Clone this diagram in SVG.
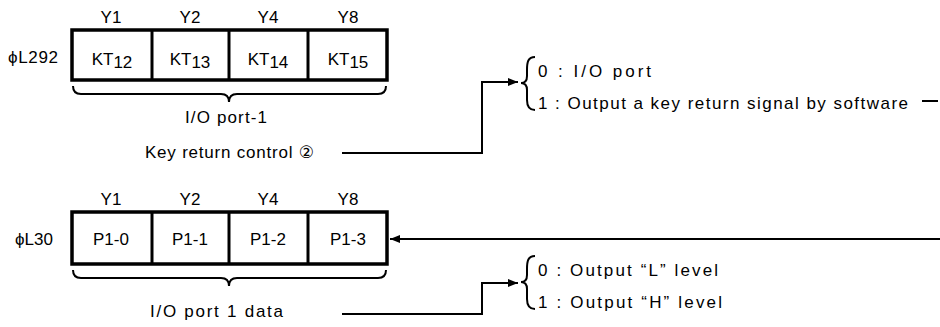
<svg xmlns="http://www.w3.org/2000/svg" width="940" height="327" viewBox="0 0 940 327">
<defs>
<style>
text{font-family:"Liberation Sans","DejaVu Sans",sans-serif;font-size:17px;fill:#000}
.c{text-anchor:middle}
.box{fill:#fff;stroke:#000;stroke-width:3.5}
.div{stroke:#000;stroke-width:3}
.ln{fill:none;stroke:#000;stroke-width:2}
</style>
<marker id="ah" markerWidth="10" markerHeight="8" refX="10" refY="4" orient="auto" markerUnits="userSpaceOnUse">
<path d="M0,0 L10,4 L0,8 Z" fill="#000"/>
</marker>
</defs>

<g id="reg292">
<rect class="box" x="72" y="30" width="315" height="50"/>
<line class="div" x1="152" y1="30" x2="152" y2="80"/>
<line class="div" x1="229" y1="30" x2="229" y2="80"/>
<line class="div" x1="308" y1="30" x2="308" y2="80"/>
<text x="8" y="63" textLength="50" lengthAdjust="spacing">ϕL292</text>
<text class="c" x="111" y="23">Y1</text>
<text class="c" x="190" y="23">Y2</text>
<text class="c" x="268" y="23">Y4</text>
<text class="c" x="348" y="23">Y8</text>
<text class="c" x="112" y="65">KT<tspan dy="3">12</tspan></text>
<text class="c" x="190" y="65">KT<tspan dy="3">13</tspan></text>
<text class="c" x="268" y="65">KT<tspan dy="3">14</tspan></text>
<text class="c" x="348" y="65">KT<tspan dy="3">15</tspan></text>
<path class="ln" d="M73,86 Q73,94 81,94 L221,94 Q229,94 229,102 Q229,94 237,94 L378,94 Q386,94 386,86"/>
<text x="185" y="123" textLength="82" lengthAdjust="spacing">I/O port-1</text>
</g>

<g id="krc">
<text x="145" y="158" textLength="169" lengthAdjust="spacing">Key return control ②</text>
</g>

<g id="opt1">
<path class="ln" d="M535,57 C528,57 527,62 527,70 L527,76 C527,81 525,83 521,83 C525,83 527,85 527,90 L527,100 C527,106 529,110 535,110"/>
<text x="538" y="77" textLength="113" lengthAdjust="spacing">0 : I/O port</text>
<text x="538" y="109" textLength="370" lengthAdjust="spacing">1 : Output a key return signal by software</text>
</g>

<g id="reg30">
<rect class="box" x="72" y="212" width="315" height="52"/>
<line class="div" x1="152" y1="212" x2="152" y2="264"/>
<line class="div" x1="229" y1="212" x2="229" y2="264"/>
<line class="div" x1="308" y1="212" x2="308" y2="264"/>
<text x="15" y="245" textLength="38" lengthAdjust="spacing">ϕL30</text>
<text class="c" x="111" y="205">Y1</text>
<text class="c" x="190" y="205">Y2</text>
<text class="c" x="268" y="205">Y4</text>
<text class="c" x="348" y="205">Y8</text>
<text class="c" x="111" y="245">P1-0</text>
<text class="c" x="190" y="245">P1-1</text>
<text class="c" x="268" y="245">P1-2</text>
<text class="c" x="348" y="245">P1-3</text>
<path class="ln" d="M73,270 Q73,278 81,278 L221,278 Q229,278 229,286 Q229,278 237,278 L378,278 Q386,278 386,270"/>
<text x="150" y="317" textLength="133" lengthAdjust="spacing">I/O port 1 data</text>
</g>

<g id="opt2">
<path class="ln" d="M535,256 C528,256 527,261 527,269 L527,275 C527,280 525,282 521,282 C525,282 527,284 527,289 L527,299 C527,305 529,309 535,309"/>
<text x="538" y="276" textLength="180" lengthAdjust="spacing">0 : Output “L” level</text>
<text x="538" y="308" textLength="184" lengthAdjust="spacing">1 : Output “H” level</text>
</g>

<g id="connectors">
<polyline class="ln" points="342,153 482,153 482,82 518,82" marker-end="url(#ah)"/>
<polyline class="ln" points="342,314 482,314 482,283 518,283" marker-end="url(#ah)"/>
<line class="ln" x1="940" y1="239" x2="390" y2="239" marker-end="url(#ah)"/>
<line class="ln" x1="922" y1="101" x2="938" y2="101"/>
</g>
</svg>
